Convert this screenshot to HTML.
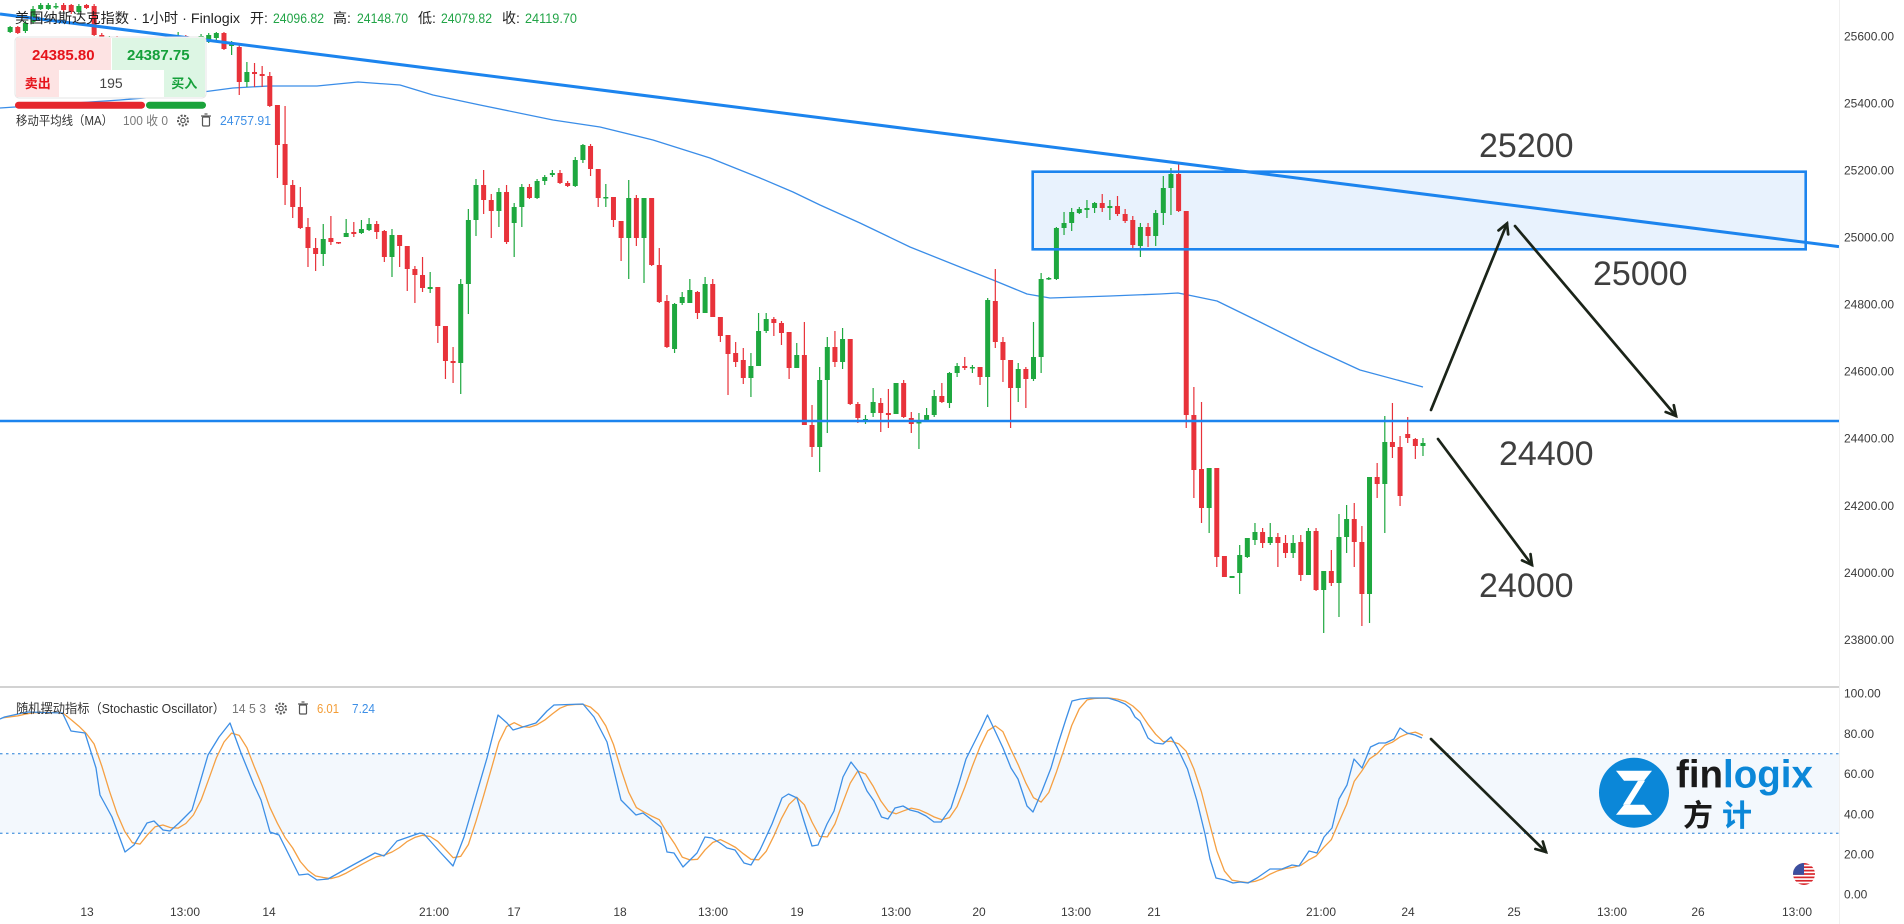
<!DOCTYPE html>
<html>
<head>
<meta charset="utf-8">
<style>
html,body{margin:0;padding:0;background:#fff;overflow:hidden;}
svg{display:block;}
text{font-family:"Liberation Sans","Noto Sans CJK SC",sans-serif;}
.ax{font-size:12px;fill:#3a3a3a;}
.tm{font-size:12px;fill:#3a3a3a;text-anchor:middle;}
.ann{font-size:34px;fill:#3f3f3f;}
</style>
</head>
<body>
<svg id="c" width="1904" height="924" viewBox="0 0 1904 924" xmlns="http://www.w3.org/2000/svg">
  <defs>
    <clipPath id="fc"><circle cx="1804" cy="874" r="11"/></clipPath>
  </defs>
  <rect width="1904" height="924" fill="#fff"/>

  <!-- stochastic band -->
  <rect x="0" y="753.7" width="1839" height="79.6" fill="#f3f8fd"/>
  <line x1="0" y1="753.7" x2="1839" y2="753.7" stroke="#5b9fe2" stroke-width="1.3" stroke-dasharray="2.5,3.5"/>
  <line x1="0" y1="833.3" x2="1839" y2="833.3" stroke="#5b9fe2" stroke-width="1.3" stroke-dasharray="2.5,3.5"/>

  <!-- zone fill -->
  <rect x="1032.7" y="171.7" width="773" height="77.6" fill="#e8f2fd"/>

  <!-- MA line -->
  <polyline id="ma" fill="none" stroke="#3a8de8" stroke-width="1.3" stroke-linejoin="round"
    points="0,108 60,104 120,100 180,95 233,88 269,86 317,86 358,82 400,85 433,95 480,105 553,120 600,127 653,140 710,158 760,178 793,192 820,205 860,223 910,247 960,267 993,280 1027,294 1050,298 1110,296 1160,294 1178,293 1193,296 1217,301 1260,322 1310,347 1360,370 1423,387"/>

  <g id="candles"></g>

  <!-- zone stroke -->
  <rect x="1032.7" y="171.7" width="773" height="77.6" fill="none" stroke="#1c84ee" stroke-width="2.6"/>
  <!-- trendline -->
  <line x1="0" y1="14" x2="1839" y2="246.6" stroke="#1c84ee" stroke-width="3"/>
  <!-- horizontal level -->
  <line x1="0" y1="421" x2="1839" y2="421" stroke="#1c84ee" stroke-width="2.4"/>

  <!-- stochastic lines -->
  <g id="stoch"></g>

  <!-- pane separator & axis separator -->
  <rect x="0" y="686" width="1839" height="2" fill="#d2d2d2"/>
  <line x1="1839.5" y1="0" x2="1839.5" y2="924" stroke="#f0f0f0" stroke-width="1"/>

  <!-- arrows -->
  <g id="arrows" stroke="#1b2419" stroke-width="2.7" stroke-linecap="round" fill="none"></g>

  <!-- annotation texts -->
  <text class="ann" x="1479" y="157">25200</text>
  <text class="ann" x="1593" y="285">25000</text>
  <text class="ann" x="1499" y="465">24400</text>
  <text class="ann" x="1479" y="597">24000</text>

  <!-- price axis -->
  <text class="ax" x="1844" y="40.3">25600.00</text>
  <text class="ax" x="1844" y="107.3">25400.00</text>
  <text class="ax" x="1844" y="174.3">25200.00</text>
  <text class="ax" x="1844" y="241.3">25000.00</text>
  <text class="ax" x="1844" y="308.3">24800.00</text>
  <text class="ax" x="1844" y="375.3">24600.00</text>
  <text class="ax" x="1844" y="442.3">24400.00</text>
  <text class="ax" x="1844" y="509.8">24200.00</text>
  <text class="ax" x="1844" y="577">24000.00</text>
  <text class="ax" x="1844" y="644.1">23800.00</text>

  <!-- stochastic axis -->
  <text class="ax" x="1844" y="697.6">100.00</text>
  <text class="ax" x="1844" y="738">80.00</text>
  <text class="ax" x="1844" y="778">60.00</text>
  <text class="ax" x="1844" y="818.6">40.00</text>
  <text class="ax" x="1844" y="858.6">20.00</text>
  <text class="ax" x="1844" y="898.6">0.00</text>

  <!-- time axis -->
  <text class="tm" x="87" y="916">13</text>
  <text class="tm" x="185" y="916">13:00</text>
  <text class="tm" x="269" y="916">14</text>
  <text class="tm" x="434" y="916">21:00</text>
  <text class="tm" x="514" y="916">17</text>
  <text class="tm" x="620" y="916">18</text>
  <text class="tm" x="713" y="916">13:00</text>
  <text class="tm" x="797" y="916">19</text>
  <text class="tm" x="896" y="916">13:00</text>
  <text class="tm" x="979" y="916">20</text>
  <text class="tm" x="1076" y="916">13:00</text>
  <text class="tm" x="1154" y="916">21</text>
  <text class="tm" x="1321" y="916">21:00</text>
  <text class="tm" x="1408" y="916">24</text>
  <text class="tm" x="1514" y="916">25</text>
  <text class="tm" x="1612" y="916">13:00</text>
  <text class="tm" x="1698" y="916">26</text>
  <text class="tm" x="1797" y="916">13:00</text>

  <!-- logo -->
  <circle cx="1634" cy="792.7" r="35" fill="#0b87d8"/>
  <g fill="#fff" transform="translate(1634,792.7)">
    <polygon points="-18,-22 18,-22 10,-12 -10,-12"/>
    <polygon points="4,-12 11,-12 -4,12 -11,12"/>
    <polygon points="-10,12 10,12 18,22 -18,22"/>
  </g>
  <text x="1676" y="787.7" font-size="38.5" font-weight="bold" fill="#1a1a1a">fin<tspan fill="#0b87d8">logix</tspan></text>
  <text x="1683" y="826" font-size="30" font-weight="bold" fill="#1a1a1a" style="font-family:'Noto Sans CJK SC',sans-serif">方</text>
  <text x="1722" y="826" font-size="30" font-weight="bold" fill="#0b87d8" style="font-family:'Noto Sans CJK SC',sans-serif">计</text>

  <!-- flag -->
  <g clip-path="url(#fc)">
    <rect x="1793" y="863" width="22" height="22" fill="#fff"/>
    <g id="stripes" fill="#d8262c"></g>
    <rect x="1793" y="863" width="11" height="11.8" fill="#3b4f9f"/>
  </g>

  <!-- top legend -->
  <text x="15" y="23" font-size="14" fill="#222" textLength="225" lengthAdjust="spacingAndGlyphs">美国纳斯达克指数 · 1小时 · Finlogix</text>
  <text x="250" y="23" font-size="14" fill="#222">开:</text>
  <text x="273" y="23" font-size="13.5" fill="#22a447" textLength="51" lengthAdjust="spacingAndGlyphs">24096.82</text>
  <text x="333" y="23" font-size="14" fill="#222">高:</text>
  <text x="357" y="23" font-size="13.5" fill="#22a447" textLength="51" lengthAdjust="spacingAndGlyphs">24148.70</text>
  <text x="418" y="23" font-size="14" fill="#222">低:</text>
  <text x="441" y="23" font-size="13.5" fill="#22a447" textLength="51" lengthAdjust="spacingAndGlyphs">24079.82</text>
  <text x="502" y="23" font-size="14" fill="#222">收:</text>
  <text x="525" y="23" font-size="13.5" fill="#22a447" textLength="52" lengthAdjust="spacingAndGlyphs">24119.70</text>

  <!-- bid/ask widget -->
  <rect x="15" y="37" width="191" height="61" rx="4" fill="#fff" stroke="#e4e4e4" stroke-width="1"/>
  <rect x="16" y="38" width="95" height="32" fill="#fde3e3"/>
  <rect x="112" y="38" width="93" height="32" fill="#ddf6e4"/>
  <rect x="16" y="70" width="43" height="27" fill="#fde3e3"/>
  <rect x="164" y="70" width="41" height="27" fill="#ddf6e4"/>
  <text x="63.3" y="60" font-size="15" font-weight="bold" fill="#e6141b" text-anchor="middle">24385.80</text>
  <text x="158.3" y="60" font-size="15" font-weight="bold" fill="#15a03a" text-anchor="middle">24387.75</text>
  <text x="37.7" y="88" font-size="13" font-weight="bold" fill="#e6141b" text-anchor="middle">卖出</text>
  <text x="111" y="88" font-size="14" fill="#444" text-anchor="middle">195</text>
  <text x="184.3" y="88" font-size="13" font-weight="bold" fill="#15a03a" text-anchor="middle">买入</text>
  <rect x="15" y="101.7" width="130" height="7" rx="3.5" fill="#e5272d"/>
  <rect x="146" y="101.7" width="60" height="7" rx="3.5" fill="#1aa33b"/>

  <!-- MA legend -->
  <text x="16" y="125" font-size="12.5" fill="#333" textLength="97" lengthAdjust="spacingAndGlyphs">移动平均线（MA）</text>
  <text x="123" y="125" font-size="12.5" fill="#7a7a7a" textLength="45" lengthAdjust="spacingAndGlyphs">100 收 0</text>
  <g stroke="#555" fill="none" stroke-width="1.2">
    <circle cx="183" cy="120.5" r="2.2"/>
    <circle cx="183" cy="120.5" r="5" stroke-dasharray="2,1.5" stroke-width="2"/>
    <rect x="202.5" y="117" width="7" height="9" rx="1"/>
    <line x1="201" y1="116" x2="211" y2="116"/>
    <line x1="204.5" y1="114" x2="207.5" y2="114"/>
  </g>
  <text x="220" y="125" font-size="12.5" fill="#3d8fe6" textLength="51" lengthAdjust="spacingAndGlyphs">24757.91</text>

  <!-- stochastic legend -->
  <text x="16" y="713" font-size="13" fill="#333" textLength="209" lengthAdjust="spacingAndGlyphs">随机摆动指标（Stochastic Oscillator）</text>
  <text x="232" y="713" font-size="13" fill="#777" textLength="34" lengthAdjust="spacingAndGlyphs">14 5 3</text>
  <g stroke="#555" fill="none" stroke-width="1.2">
    <circle cx="281" cy="708.5" r="2.2"/>
    <circle cx="281" cy="708.5" r="5" stroke-dasharray="2,1.5" stroke-width="2"/>
    <rect x="299.5" y="705" width="7" height="9" rx="1"/>
    <line x1="298" y1="704" x2="308" y2="704"/>
    <line x1="301.5" y1="702" x2="304.5" y2="702"/>
  </g>
  <text x="317" y="713" font-size="13" fill="#f39c35" textLength="22" lengthAdjust="spacingAndGlyphs">6.01</text>
  <text x="352" y="713" font-size="13" fill="#3d8fe6" textLength="23" lengthAdjust="spacingAndGlyphs">7.24</text>
</svg>

<script>
(function(){
var NS="http://www.w3.org/2000/svg";
function el(tag,attrs,parent){var e=document.createElementNS(NS,tag);for(var k in attrs)e.setAttribute(k,attrs[k]);parent.appendChild(e);return e;}
function X(k){return 2.5+7.637*k;}
var G="#1ea83f",R="#e8323a";
var D=[
[1,1,27,32,26,33],[2,0,27,33,26,34],[3,1,23,31,21,33],[4,1,9,22,6,24],[5,1,5,9,3,10],[6,1,5,9,3,10],[7,1,6,7,3,9],[8,0,5,10,3,12],[9,0,5,12,4,14],[10,1,6,12,4,14],[11,0,5,8,4,9],[12,0,6,35,4,36],
[13,0,35,45,33,48],[14,1,38,44,36,47],[15,0,38,50,36,52],[16,1,45,50,43,53],[17,0,45,55,43,57],[18,1,48,55,46,57],[19,1,42,48,40,50],[20,0,42,47,40,49],[21,1,40,47,38,49],[22,1,36,40,35,42],[23,1,36,42,32,44],[24,0,36,45,35,47],[25,1,40,45,38,47],[26,1,36,42,34,44],
[27,1,35,42,33,43],[28,1,33,38,32,40],[29,0,33,49,32,50],[30,1,42,46,41,55],[31,0,47,82,43,95],[32,1,72,82,62,87],[33,0,72,74,63,87],[34,0,74,76,66,87],[35,0,76,106,72,107],[36,0,105,145,105,178],[37,0,144,185,106,205],[38,0,185,207,180,218],[39,0,207,228,187,229],[40,0,227,248,218,267],[41,0,248,254,238,271],[42,1,239,254,224,266],[43,0,238,242,216,245],[44,0,242,243,242,244],[45,1,233,237,219,237],[46,0,232,234,222,237],[47,1,229,233,220,234],[48,1,224,230,218,231],[49,0,224,232,221,239],[50,0,231,257,230,262],[51,1,235,257,229,277],[52,0,235,246,235,267],[53,0,246,269,246,291],[54,0,269,275,266,303],[55,0,275,288,257,292],[56,1,287,289,272,293],[57,0,287,326,287,343],[58,0,326,361,326,379],[59,0,361,363,347,383],[60,1,284,363,279,394],[61,1,220,284,209,314],[62,1,185,220,179,236],
[63,0,185,200,170,214],[64,0,200,211,194,238],[65,1,192,211,188,227],[66,0,192,242,185,244],[67,1,207,223,203,257],[68,1,187,207,184,227],[69,0,187,198,184,199],[70,1,181,198,179,199],[71,1,177,181,175,185],[72,1,173,175,170,177],[73,0,173,183,170,184],[74,0,183,186,181,187],[75,1,160,186,157,187],[76,1,145,160,144,163],[77,0,146,169,144,176],[78,0,169,198,169,207],[79,1,197,198,184,207],[80,0,197,220,197,227],[81,0,221,238,221,261],[82,1,198,238,180,279],[83,0,198,238,195,246],[84,1,198,238,198,283],[85,0,198,265,198,266],[86,0,265,302,248,303],[87,0,301,347,295,348],[88,1,304,349,303,353],[89,1,297,303,292,305],[90,1,290,303,279,303],[91,0,292,313,291,319],[92,1,284,313,277,313],[93,0,284,317,279,317],[94,0,317,336,317,342],[95,0,335,354,335,395],[96,0,353,362,342,367],[97,0,360,378,348,384],[98,1,366,378,353,397],[99,1,331,366,313,366],[100,1,319,331,313,333],[101,0,319,323,317,336],[102,0,323,333,321,345],[103,0,332,368,332,379],[104,1,355,368,343,368],[105,0,355,425,322,425],[106,0,425,447,405,457],[107,1,380,447,367,472],[108,1,347,380,337,433],[109,0,347,362,331,367],[110,1,339,362,328,369],[111,0,339,404,339,405],[112,0,404,418,402,423],[113,1,419,421,415,424],[114,1,402,413,388,417],[115,0,403,413,398,432],[116,0,413,415,389,428],[117,1,383,414,383,414],[118,0,383,417,380,418],[119,0,418,424,412,433],[120,1,422,423,413,449],[121,1,415,420,408,422],[122,1,396,415,390,417],[123,0,396,402,383,403],[124,1,373,403,372,408],[125,1,366,373,363,377],
[126,0,366,368,357,370],[127,1,367,368,365,373],[128,0,367,377,367,385],[129,1,300,377,298,407],[130,0,301,342,269,348],[131,0,342,360,337,382],[132,0,360,388,360,428],[133,1,369,388,363,402],[134,0,369,379,367,408],[135,1,357,379,322,381],[136,1,279,357,273,373],[137,1,278,279,277,280],[138,1,228,279,227,280],[139,1,223,228,212,235],[140,1,212,223,208,231],[141,1,209,213,207,214],[142,1,208,210,200,218],[143,1,203,208,202,213],[144,0,203,208,194,212],[145,1,206,208,200,220],[146,0,206,214,196,216],[147,0,214,221,209,223],[148,0,220,245,216,248],[149,1,227,246,223,257],[150,0,227,236,223,247],[151,1,213,236,210,246],[152,1,188,213,176,225],[153,1,174,188,168,215],[154,0,174,211,163,212],[155,0,211,415,211,428],[156,0,415,470,387,498],[157,0,469,508,402,523],[158,1,468,508,468,533],[159,0,468,557,468,567],[160,0,556,577,556,577],[161,1,576,578,576,578],[162,1,555,573,545,594],[163,1,538,557,538,558],[164,1,532,540,523,545],[165,0,532,543,528,548],[166,1,537,543,523,545],[167,0,537,543,533,567],[168,0,543,553,535,558],[169,1,543,553,535,558],[170,0,542,575,535,581],[171,1,531,575,528,575],[172,0,531,590,528,591],[173,1,571,590,571,633],[174,0,571,583,550,586],[175,1,537,583,514,617],[176,1,519,537,505,553],[177,0,519,542,503,567],[178,0,542,594,526,626],[179,1,477,594,477,623],[180,0,477,484,463,498],[181,1,442,484,416,533],[182,0,442,447,403,458],[183,0,447,496,436,506],[184,0,434,438,417,443],[185,0,439,446,438,459],[186,1,443,446,438,456]
];
var cg=document.getElementById("candles");
D.forEach(function(d){
  var x=X(d[0]),col=d[1]?G:R;
  el("rect",{x:(x-0.6).toFixed(2),y:d[4],width:1.2,height:Math.max(d[5]-d[4],1),fill:col},cg);
  el("rect",{x:(x-2.5).toFixed(2),y:d[2],width:5,height:Math.max(d[3]-d[2],1.5),fill:col},cg);
});

var S=[[0,719],[4.5,717],[27,712],[62.5,713],[71,731],[85,733],[96,768],[100,795],[112,817],[125,852],[134,845],[147,823],[154,821],[163,830],[170,831],[179,823],[192,810],[208,755],[219,737],[230,723],[241,753],[254,785],[261,800],[270,832],[279,835],[299,875],[308,874],[317,880],[328,879],[353,865],[375,853],[384,856],[397,841],[420,833],[424,834],[440,852],[453,866],[464,837],[487,758],[498,715],[507,723],[513,730],[536,723],[547,711],[554,705],[583,704],[594,717],[607,742],[621,800],[636,815],[643,813],[661,827],[667,852],[674,853],[683,867],[697,853],[705,837],[712,838],[720,843],[727,848],[735,850],[744,863],[751,865],[760,850],[772,824],[782,798],[788.5,794],[797,798],[804,821],[812,846],[818,845],[827,824],[834,811],[843,777],[851,762],[858,771],[867,791],[874,801],[881.5,817],[888,819],[895,808],[903,806],[910,810],[918,812],[926,816],[934,822],[941,822],[951,808],[959,783],[966,759],[973.5,744],[981,729],[987.5,715],[996,733],[1003,748],[1011,768],[1018,779],[1027,806],[1033,812],[1042,791],[1051,768],[1058,744],[1066,719],[1072,701],[1080.5,699],[1090,698],[1108,698],[1118,701],[1125,704],[1130,708],[1135,717],[1140,721],[1148,738],[1155,743],[1163,744],[1171,737],[1177.5,748],[1187.5,769],[1197,801],[1205,834],[1210,859],[1216,878],[1225,880],[1233,883],[1240,882],[1248,883],[1257,878],[1270,869],[1282,869],[1292,865],[1299,866],[1309,851],[1317,853],[1324,837],[1332,828],[1339,799],[1347,785],[1354,759],[1362,768],[1370.5,747],[1379,743],[1385.5,743],[1394,739],[1400,728],[1407,733],[1415,735],[1422,738]];
function interp(x){
  if(x<=S[0][0])return S[0][1];
  for(var i=1;i<S.length;i++){if(x<=S[i][0]){var a=S[i-1],b=S[i];return a[1]+(b[1]-a[1])*(x-a[0])/(b[0]-a[0]);}}
  return S[S.length-1][1];
}
var b=[],o=[];
for(var k=0;k<=186;k++){b.push(interp(X(k)));}
for(k=0;k<=186;k++){var s=0,n=0;for(var j=Math.max(0,k-2);j<=k;j++){s+=b[j];n++;}o.push([X(k),s/n]);}
var sg=document.getElementById("stoch");
el("polyline",{points:o.map(function(p){return p[0].toFixed(1)+","+p[1].toFixed(1);}).join(" "),fill:"none",stroke:"#f5a043","stroke-width":1.3,"stroke-linejoin":"round"},sg);
el("polyline",{points:S.map(function(p){return p[0]+","+p[1];}).join(" "),fill:"none",stroke:"#3d8fe6","stroke-width":1.3,"stroke-linejoin":"round"},sg);

var ag=document.getElementById("arrows");
function arrow(x1,y1,x2,y2){
  el("line",{x1:x1,y1:y1,x2:x2,y2:y2},ag);
  var a=Math.atan2(y2-y1,x2-x1),L=11,w=0.5;
  el("polyline",{points:(x2-L*Math.cos(a-w)).toFixed(1)+","+(y2-L*Math.sin(a-w)).toFixed(1)+" "+x2+","+y2+" "+(x2-L*Math.cos(a+w)).toFixed(1)+","+(y2-L*Math.sin(a+w)).toFixed(1),"stroke-linejoin":"miter"},ag);
}
arrow(1431,410,1507,223.5);
arrow(1515,226,1676,416);
arrow(1438,439,1532,565);
arrow(1431,739,1546,852);

var st=document.getElementById("stripes");
for(var i=0;i<7;i++){el("rect",{x:1793,y:(863+i*3.385).toFixed(2),width:22,height:1.7},st);}
})();
</script>
</body>
</html>
